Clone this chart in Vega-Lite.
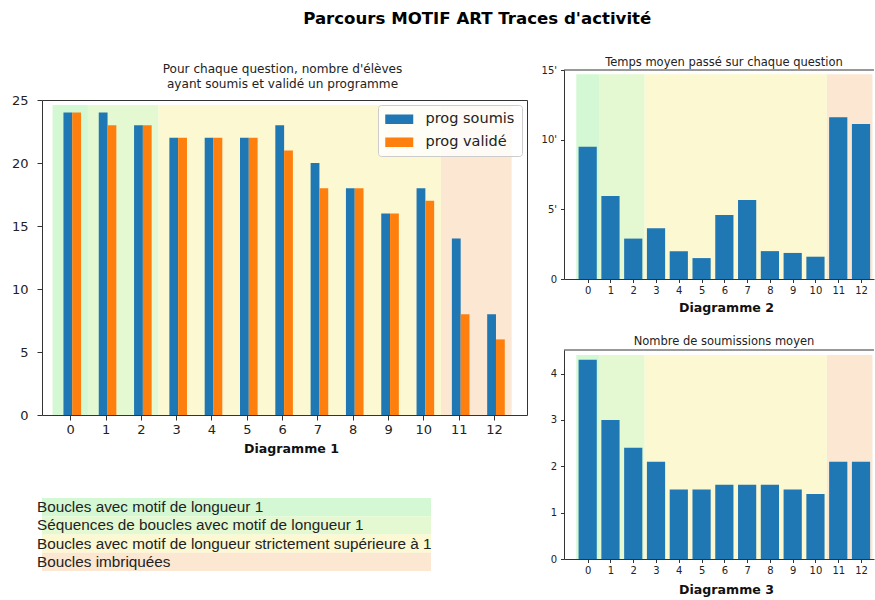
{
  "$schema": "https://vega.github.io/schema/vega-lite/v6.json",
  "background": "white",
  "padding": {"left": 10, "top": 10, "right": 0, "bottom": 0},
  "autosize": {"type": "pad"},
  "title": {"text": "Parcours MOTIF ART Traces d'activité", "font": "DejaVu Sans", "fontSize": 16.6, "fontWeight": "bold", "color": "#000", "anchor": "middle", "dx": 34.5, "offset": 22.5},
  "config": {
    "view": {"stroke": null},
    "font": "DejaVu Sans",
    "axis": {"grid": false, "domainColor": "#333", "tickColor": "#333", "labelColor": "#222", "titleColor": "#111", "labelFont": "DejaVu Sans", "titleFont": "DejaVu Sans"}
  },
  "datasets": {
    "comptes": [
      {"q": 0, "serie": "prog soumis", "n": 24}, {"q": 1, "serie": "prog soumis", "n": 24}, {"q": 2, "serie": "prog soumis", "n": 23},
      {"q": 3, "serie": "prog soumis", "n": 22}, {"q": 4, "serie": "prog soumis", "n": 22}, {"q": 5, "serie": "prog soumis", "n": 22},
      {"q": 6, "serie": "prog soumis", "n": 23}, {"q": 7, "serie": "prog soumis", "n": 20}, {"q": 8, "serie": "prog soumis", "n": 18},
      {"q": 9, "serie": "prog soumis", "n": 16}, {"q": 10, "serie": "prog soumis", "n": 18}, {"q": 11, "serie": "prog soumis", "n": 14},
      {"q": 12, "serie": "prog soumis", "n": 8},
      {"q": 0, "serie": "prog validé", "n": 24}, {"q": 1, "serie": "prog validé", "n": 23}, {"q": 2, "serie": "prog validé", "n": 23},
      {"q": 3, "serie": "prog validé", "n": 22}, {"q": 4, "serie": "prog validé", "n": 22}, {"q": 5, "serie": "prog validé", "n": 22},
      {"q": 6, "serie": "prog validé", "n": 21}, {"q": 7, "serie": "prog validé", "n": 18}, {"q": 8, "serie": "prog validé", "n": 18},
      {"q": 9, "serie": "prog validé", "n": 16}, {"q": 10, "serie": "prog validé", "n": 17}, {"q": 11, "serie": "prog validé", "n": 8},
      {"q": 12, "serie": "prog validé", "n": 6}
    ],
    "temps": [
      {"q": 0, "minutes": 9.5}, {"q": 1, "minutes": 5.95}, {"q": 2, "minutes": 2.9}, {"q": 3, "minutes": 3.65},
      {"q": 4, "minutes": 2.0}, {"q": 5, "minutes": 1.5}, {"q": 6, "minutes": 4.6}, {"q": 7, "minutes": 5.67},
      {"q": 8, "minutes": 2.0}, {"q": 9, "minutes": 1.87}, {"q": 10, "minutes": 1.6}, {"q": 11, "minutes": 11.6},
      {"q": 12, "minutes": 11.13}
    ],
    "soumissions": [
      {"q": 0, "moyenne": 4.3}, {"q": 1, "moyenne": 3.0}, {"q": 2, "moyenne": 2.4}, {"q": 3, "moyenne": 2.1},
      {"q": 4, "moyenne": 1.5}, {"q": 5, "moyenne": 1.5}, {"q": 6, "moyenne": 1.6}, {"q": 7, "moyenne": 1.6},
      {"q": 8, "moyenne": 1.6}, {"q": 9, "moyenne": 1.5}, {"q": 10, "moyenne": 1.4}, {"q": 11, "moyenne": 2.1},
      {"q": 12, "moyenne": 2.1}
    ],
    "bandes1": [
      {"groupe": "A", "debut": -0.5, "fin": 0.5, "bas": 0, "haut": 24.6},
      {"groupe": "B", "debut": 0.5, "fin": 2.5, "bas": 0, "haut": 24.6},
      {"groupe": "C", "debut": 2.5, "fin": 10.5, "bas": 0, "haut": 24.6},
      {"groupe": "D", "debut": 10.5, "fin": 12.5, "bas": 0, "haut": 24.6}
    ],
    "bandes2": [
      {"groupe": "A", "debut": -0.5, "fin": 0.5, "bas": 0, "haut": 14.7},
      {"groupe": "B", "debut": 0.5, "fin": 2.5, "bas": 0, "haut": 14.7},
      {"groupe": "C", "debut": 2.5, "fin": 10.5, "bas": 0, "haut": 14.7},
      {"groupe": "D", "debut": 10.5, "fin": 12.5, "bas": 0, "haut": 14.7}
    ],
    "bandes3": [
      {"groupe": "A", "debut": -0.5, "fin": 0.5, "bas": 0, "haut": 4.4},
      {"groupe": "B", "debut": 0.5, "fin": 2.5, "bas": 0, "haut": 4.4},
      {"groupe": "C", "debut": 2.5, "fin": 10.5, "bas": 0, "haut": 4.4},
      {"groupe": "D", "debut": 10.5, "fin": 12.5, "bas": 0, "haut": 4.4}
    ],
    "categories": [
      {"groupe": "A", "texte": "Boucles avec motif de longueur 1"},
      {"groupe": "B", "texte": "Séquences de boucles avec motif de longueur 1"},
      {"groupe": "C", "texte": "Boucles avec motif de longueur strictement supérieure à 1"},
      {"groupe": "D", "texte": "Boucles imbriquées"}
    ]
  },
  "spacing": 13,
  "resolve": {"scale": {"color": "independent"}, "legend": {"color": "independent"}},
  "hconcat": [
    {
      "bounds": "flush",
      "spacing": 0,
      "resolve": {"scale": {"color": "independent"}, "legend": {"color": "independent"}},
      "vconcat": [
        {"width": 485, "height": 50, "data": {"values": [{"v": 0}]}, "mark": {"type": "point", "opacity": 0}, "encoding": {"x": {"field": "v", "type": "quantitative", "axis": null}, "y": {"field": "v", "type": "quantitative", "axis": null}}},
        {
          "bounds": "flush",
          "spacing": 83,
          "resolve": {"scale": {"color": "independent"}, "legend": {"color": "independent"}},
          "vconcat": [
            {
              "width": 485,
              "height": 315,
              "view": {"stroke": "#333", "strokeWidth": 1},
              "title": {"text": ["Pour chaque question, nombre d'élèves", "ayant soumis et validé un programme"], "font": "DejaVu Sans", "fontSize": 12.1, "fontWeight": "normal", "color": "#222", "lineHeight": 15, "frame": "group", "offset": 4, "anchor": "middle", "dx": -2},
              "layer": [
                {
                  "data": {"name": "bandes1"},
                  "mark": {"type": "rect"},
                  "encoding": {
                    "x": {"field": "debut", "type": "quantitative", "scale": {"domain": [-0.8, 12.935], "nice": false, "zero": false, "padding": 0},
                      "axis": {"values": [0,1,2,3,4,5,6,7,8,9,10,11,12], "format": "d", "domain": false, "labelFontSize": 13, "tickSize": 5, "labelPadding": 3, "title": "Diagramme 1", "titleFontSize": 12.6, "titleFontWeight": "bold", "titlePadding": 6, "titleX": 249}},
                    "x2": {"field": "fin"},
                    "y": {"field": "bas", "type": "quantitative", "scale": {"domain": [0, 25], "nice": false},
                      "axis": {"values": [0,5,10,15,20,25], "format": "d", "domain": false, "labelFontSize": 13, "tickSize": 5, "labelPadding": 9, "title": null}},
                    "y2": {"field": "haut"},
                    "fill": {"field": "groupe", "type": "nominal", "scale": {"domain": ["A","B","C","D"], "range": ["#d3f8d3","#e4f9d1","#fbf8d2","#fbe7d2"]}, "legend": null}
                  }
                },
                {
                  "data": {"name": "comptes"},
                  "transform": [{"filter": "datum.serie === 'prog soumis'"}],
                  "mark": {"type": "bar", "width": 8.8, "xOffset": -2.4},
                  "encoding": {
                    "x": {"field": "q", "type": "quantitative", "scale": {"domain": [-0.8, 12.935], "nice": false, "zero": false, "padding": 0},
                      "axis": {"values": [0,1,2,3,4,5,6,7,8,9,10,11,12], "format": "d", "domain": false, "labelFontSize": 13, "tickSize": 5, "labelPadding": 3, "title": "Diagramme 1", "titleFontSize": 12.6, "titleFontWeight": "bold", "titlePadding": 6, "titleX": 249}},
                    "y": {"field": "n", "type": "quantitative", "scale": {"domain": [0, 25], "nice": false},
                      "axis": {"values": [0,5,10,15,20,25], "format": "d", "domain": false, "labelFontSize": 13, "tickSize": 5, "labelPadding": 9, "title": null}},
                    "color": {"field": "serie", "type": "nominal", "scale": {"domain": ["prog soumis", "prog validé"], "range": ["#1f77b4", "#ff7f0e"]},
                      "legend": {"orient": "top-right", "offset": 5, "title": null, "direction": "vertical", "labelFont": "DejaVu Sans", "labelFontSize": 14.5, "labelColor": "#222", "symbolType": "M-1,-0.68L3,-0.68L3,0.68L-1,0.68Z", "symbolSize": 196, "symbolStrokeWidth": 0, "labelOffset": 26, "rowPadding": 8, "padding": 7, "strokeColor": "#cccccc", "fillColor": "rgba(255,255,255,0.8)", "cornerRadius": 3}}
                  }
                },
                {
                  "data": {"name": "comptes"},
                  "transform": [{"filter": "datum.serie === 'prog validé'"}],
                  "mark": {"type": "bar", "width": 8.8, "xOffset": 6.4},
                  "encoding": {
                    "x": {"field": "q", "type": "quantitative", "scale": {"domain": [-0.8, 12.935], "nice": false, "zero": false, "padding": 0},
                      "axis": {"values": [0,1,2,3,4,5,6,7,8,9,10,11,12], "format": "d", "domain": false, "labelFontSize": 13, "tickSize": 5, "labelPadding": 3, "title": "Diagramme 1", "titleFontSize": 12.6, "titleFontWeight": "bold", "titlePadding": 6, "titleX": 249}},
                    "y": {"field": "n", "type": "quantitative", "scale": {"domain": [0, 25], "nice": false},
                      "axis": {"values": [0,5,10,15,20,25], "format": "d", "domain": false, "labelFontSize": 13, "tickSize": 5, "labelPadding": 9, "title": null}},
                    "color": {"field": "serie", "type": "nominal", "scale": {"domain": ["prog soumis", "prog validé"], "range": ["#1f77b4", "#ff7f0e"]},
                      "legend": {"orient": "top-right", "offset": 5, "title": null, "direction": "vertical", "labelFont": "DejaVu Sans", "labelFontSize": 14.5, "labelColor": "#222", "symbolType": "M-1,-0.68L3,-0.68L3,0.68L-1,0.68Z", "symbolSize": 196, "symbolStrokeWidth": 0, "labelOffset": 26, "rowPadding": 8, "padding": 7, "strokeColor": "#cccccc", "fillColor": "rgba(255,255,255,0.8)", "cornerRadius": 3}}
                  }
                }
              ]
            },
            {
              "width": 395,
              "height": 73,
              "data": {"name": "categories"},
              "layer": [
                {
                  "mark": {"type": "rect", "xOffset": -6, "x2Offset": -7},
                  "encoding": {
                    "y": {"field": "texte", "type": "ordinal", "sort": null, "scale": {"paddingInner": 0, "paddingOuter": 0}, "axis": null},
                    "fill": {"field": "groupe", "type": "nominal", "scale": {"domain": ["A","B","C","D"], "range": ["#d3f8d3","#e4f9d1","#fbf8d2","#fbe7d2"]}, "legend": null}
                  }
                },
                {
                  "mark": {"type": "text", "align": "left", "baseline": "middle", "dx": -5, "font": "Liberation Sans", "fontSize": 15.3, "color": "#222"},
                  "encoding": {
                    "y": {"field": "texte", "type": "ordinal", "sort": null, "scale": {"paddingInner": 0, "paddingOuter": 0}, "axis": null},
                    "x": {"value": 0},
                    "text": {"field": "texte"}
                  }
                }
              ]
            }
          ]
        }
      ]
    },
    {
      "bounds": "flush",
      "spacing": 0,
      "resolve": {"scale": {"color": "independent"}, "legend": {"color": "independent"}},
      "vconcat": [
        {"width": 310, "height": 20, "data": {"values": [{"v": 0}]}, "mark": {"type": "point", "opacity": 0}, "encoding": {"x": {"field": "v", "type": "quantitative", "axis": null}, "y": {"field": "v", "type": "quantitative", "axis": null}}},
        {
          "bounds": "flush",
          "spacing": 71,
          "vconcat": [
            {
              "width": 310,
              "height": 209,
              "title": {"text": "Temps moyen passé sur chaque question", "font": "DejaVu Sans", "fontSize": 11.5, "fontWeight": "normal", "color": "#222", "frame": "group", "offset": -3.5, "dx": 5, "anchor": "middle"},
              "layer": [
                {
                  "data": {"name": "bandes2"},
                  "mark": {"type": "rect"},
                  "encoding": {
                    "x": {"field": "debut", "type": "quantitative", "scale": {"domain": [-1.04, 12.57], "nice": false, "zero": false, "padding": 0},
                      "axis": {"values": [0,1,2,3,4,5,6,7,8,9,10,11,12], "format": "d", "labelFontSize": 10, "tickSize": 3.5, "labelPadding": 3, "title": "Diagramme 2", "titleFontSize": 12.6, "titleFontWeight": "bold", "titlePadding": 6, "titleX": 162}},
                    "x2": {"field": "fin"},
                    "y": {"field": "bas", "type": "quantitative", "scale": {"domain": [0, 15], "nice": false},
                      "axis": {"values": [0,5,10,15], "labelExpr": "datum.value === 0 ? '0' : datum.value + \"'\"", "labelFontSize": 10, "tickSize": 3.5, "labelPadding": 4, "title": null}},
                    "y2": {"field": "haut"},
                    "fill": {"field": "groupe", "type": "nominal", "scale": {"domain": ["A","B","C","D"], "range": ["#d3f8d3","#e4f9d1","#fbf8d2","#fbe7d2"]}, "legend": null}
                  }
                },
                {
                  "data": {"name": "temps"},
                  "mark": {"type": "bar", "width": 18.2, "color": "#1f77b4"},
                  "encoding": {
                    "x": {"field": "q", "type": "quantitative", "scale": {"domain": [-1.04, 12.57], "nice": false, "zero": false, "padding": 0},
                      "axis": {"values": [0,1,2,3,4,5,6,7,8,9,10,11,12], "format": "d", "labelFontSize": 10, "tickSize": 3.5, "labelPadding": 3, "title": "Diagramme 2", "titleFontSize": 12.6, "titleFontWeight": "bold", "titlePadding": 6, "titleX": 162}},
                    "y": {"field": "minutes", "type": "quantitative", "scale": {"domain": [0, 15], "nice": false},
                      "axis": {"values": [0,5,10,15], "labelExpr": "datum.value === 0 ? '0' : datum.value + \"'\"", "labelFontSize": 10, "tickSize": 3.5, "labelPadding": 4, "title": null}}
                  }
                },
                {
                  "data": {"values": [{"maximum": 15}]},
                  "mark": {"type": "rule", "color": "#333", "strokeWidth": 1},
                  "encoding": {
                    "y": {"field": "maximum", "type": "quantitative", "scale": {"domain": [0, 15], "nice": false},
                      "axis": {"values": [0,5,10,15], "labelExpr": "datum.value === 0 ? '0' : datum.value + \"'\"", "labelFontSize": 10, "tickSize": 3.5, "labelPadding": 4, "title": null}}
                  }
                }
              ]
            },
            {
              "width": 310,
              "height": 209,
              "title": {"text": "Nombre de soumissions moyen", "font": "DejaVu Sans", "fontSize": 11.5, "fontWeight": "normal", "color": "#222", "frame": "group", "offset": 2, "dx": 5, "anchor": "middle"},
              "layer": [
                {
                  "data": {"name": "bandes3"},
                  "mark": {"type": "rect"},
                  "encoding": {
                    "x": {"field": "debut", "type": "quantitative", "scale": {"domain": [-1.04, 12.57], "nice": false, "zero": false, "padding": 0},
                      "axis": {"values": [0,1,2,3,4,5,6,7,8,9,10,11,12], "format": "d", "labelFontSize": 10, "tickSize": 3.5, "labelPadding": 3, "title": "Diagramme 3", "titleFontSize": 12.6, "titleFontWeight": "bold", "titlePadding": 8, "titleX": 162}},
                    "x2": {"field": "fin"},
                    "y": {"field": "bas", "type": "quantitative", "scale": {"domain": [0, 4.51], "nice": false},
                      "axis": {"values": [0,1,2,3,4], "format": "d", "labelFontSize": 10, "tickSize": 3.5, "labelPadding": 4, "title": null}},
                    "y2": {"field": "haut"},
                    "fill": {"field": "groupe", "type": "nominal", "scale": {"domain": ["A","B","C","D"], "range": ["#d3f8d3","#e4f9d1","#fbf8d2","#fbe7d2"]}, "legend": null}
                  }
                },
                {
                  "data": {"name": "soumissions"},
                  "mark": {"type": "bar", "width": 18.2, "color": "#1f77b4"},
                  "encoding": {
                    "x": {"field": "q", "type": "quantitative", "scale": {"domain": [-1.04, 12.57], "nice": false, "zero": false, "padding": 0},
                      "axis": {"values": [0,1,2,3,4,5,6,7,8,9,10,11,12], "format": "d", "labelFontSize": 10, "tickSize": 3.5, "labelPadding": 3, "title": "Diagramme 3", "titleFontSize": 12.6, "titleFontWeight": "bold", "titlePadding": 8, "titleX": 162}},
                    "y": {"field": "moyenne", "type": "quantitative", "scale": {"domain": [0, 4.51], "nice": false},
                      "axis": {"values": [0,1,2,3,4], "format": "d", "labelFontSize": 10, "tickSize": 3.5, "labelPadding": 4, "title": null}}
                  }
                },
                {
                  "data": {"values": [{"maximum": 4.51}]},
                  "mark": {"type": "rule", "color": "#333", "strokeWidth": 1},
                  "encoding": {
                    "y": {"field": "maximum", "type": "quantitative", "scale": {"domain": [0, 4.51], "nice": false},
                      "axis": {"values": [0,1,2,3,4], "format": "d", "labelFontSize": 10, "tickSize": 3.5, "labelPadding": 4, "title": null}}
                  }
                }
              ]
            }
          ]
        }
      ]
    }
  ]
}
